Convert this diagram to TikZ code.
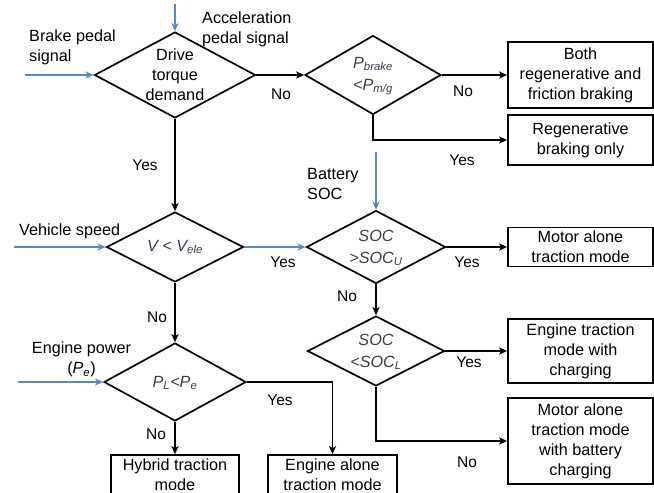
\documentclass[tikz,border=0pt]{standalone}
\usepackage{fontspec}
\setmainfont{Liberation Sans}
\usetikzlibrary{shapes.geometric,arrows.meta}
\definecolor{sigblue}{RGB}{85,140,200}
\definecolor{mathgray}{RGB}{60,60,78}
\begin{document}
\begin{tikzpicture}[x=1pt,y=-1pt,
  every node/.style={font=\fontsize{16.2}{20}\selectfont, inner sep=0pt},
  dia/.style={draw, shape=diamond, line width=1.7pt},
  dtext/.style={align=center, text=mathgray, font=\fontsize{16.2}{22}\selectfont\itshape},
  box/.style={draw, line width=1.7pt, align=center, minimum width=145pt},
  arr/.style={line width=1.7pt, -{Stealth[length=8pt,width=7pt,inset=2pt]}},
  sig/.style={line width=1.8pt, draw=sigblue, -{Stealth[length=8pt,width=7pt,inset=2pt]}},
  yn/.style={font=\fontsize{15.5}{18}\selectfont}]
\useasboundingbox (0,0) rectangle (654,493);

% decisions
\node[dia, minimum width=161pt, minimum height=86pt] (d1) at (175,75) {};
\node[align=center] (d1t) at (175,75) {Drive\\torque\\demand};
\node[dia, minimum width=136pt, minimum height=79pt] (d2) at (373,75) {};
\node[dtext] (d2t) at (373,76) {P\textsubscript{brake}\\<P\textsubscript{m/g}};
\node[dia, minimum width=137pt, minimum height=70pt] (d3) at (175,247) {};
\node[dtext] (d3t) at (175,247) {V < V\textsubscript{ele}};
\node[dia, minimum width=139pt, minimum height=73pt] (d4) at (376,247) {};
\node[dtext] (d4t) at (376,248) {SOC\\>SOC\textsubscript{U}};
\node[dia, minimum width=137pt, minimum height=70pt] (d5) at (376,351) {};
\node[dtext] (d5t) at (376,352) {SOC\\<SOC\textsubscript{L}};
\node[dia, minimum width=142pt, minimum height=78pt] (d6) at (175,382) {};
\node[dtext] (d6t) at (175,383) {P\textsubscript{L}<P\textsubscript{e}};

% result boxes
\node[box, minimum height=66pt] (b1) at (580.5,75) {Both\\regenerative and\\friction braking};
\node[box, minimum height=50pt] (b2) at (580.5,140) {Regenerative\\braking only};
\node[box, minimum height=39pt] (b3) at (580.5,247) {Motor alone\\traction mode};
\node[box, minimum height=64pt] (b4) at (580.5,351) {Engine traction\\mode with\\charging};
\node[box, minimum height=86pt] (b5) at (580.5,441) {Motor alone\\traction mode\\with battery\\charging};
\node[box, minimum width=128pt, minimum height=40pt] (b6) at (175,475) {Hybrid traction\\mode};
\node[box, minimum width=129pt, minimum height=40pt] (b7) at (332.5,475) {Engine alone\\traction mode};

% input labels
\node[align=left, anchor=west] (lbrake) at (29,47) {Brake pedal\\signal};
\node[align=left, anchor=west] (lacc) at (202,29.5) {Acceleration\\pedal signal};
\node[align=left, anchor=west] (lbat) at (307,184.5) {Battery\\SOC};
\node[anchor=west] (lveh) at (19,231) {Vehicle speed};
\node[align=center] (leng) at (81.5,359.5) {Engine power\\(\textit{P\textsubscript{e}})};

% input start points
\coordinate (sAcc) at (175,4);
\coordinate (sBrake) at (25,75);
\coordinate (sVeh) at (14,247);
\coordinate (sEng) at (18,382);
\coordinate (sBat) at (376,152);

% connectors
\draw[sig] (sAcc) -- (d1.north);
\draw[sig] (sBrake) -- (d1.west);
\draw[arr] (d1.east) -- (d2.west);
\draw[arr] (d2.east) -- (b1.west);
\draw[arr] (d2.south) |- (b2.west);
\draw[arr] (d1.south) -- (d3.north);
\draw[sig] (sVeh) -- (d3.west);
\draw[sig] (d3.east) -- (d4.west);
\draw[sig] (sBat) -- (d4.north);
\draw[arr] (d4.east) -- (b3.west);
\draw[arr] (d4.south) -- (d5.north);
\draw[arr] (d5.east) -- (b4.west);
\draw[arr] (d5.south) |- (b5.west);
\draw[arr] (d3.south) -- (d6.north);
\draw[sig] (sEng) -- (d6.west);
\draw[arr] (d6.east) -| (b7.north);
\draw[arr] (d6.south) -- (b6.north);

% yes / no labels
\node[yn] (n1) at (281,94) {No};
\node[yn] (n2) at (463,91) {No};
\node[yn] (y1) at (145,165) {Yes};
\node[yn] (y2) at (462,160) {Yes};
\node[yn] (y3) at (283,262) {Yes};
\node[yn] (y4) at (467,262) {Yes};
\node[yn] (n3) at (347,296) {No};
\node[yn] (n4) at (157,317) {No};
\node[yn] (y5) at (469,362) {Yes};
\node[yn] (n5) at (467,462) {No};
\node[yn] (y6) at (280,400) {Yes};
\node[yn] (n6) at (156,434) {No};
\end{tikzpicture}
\end{document}
